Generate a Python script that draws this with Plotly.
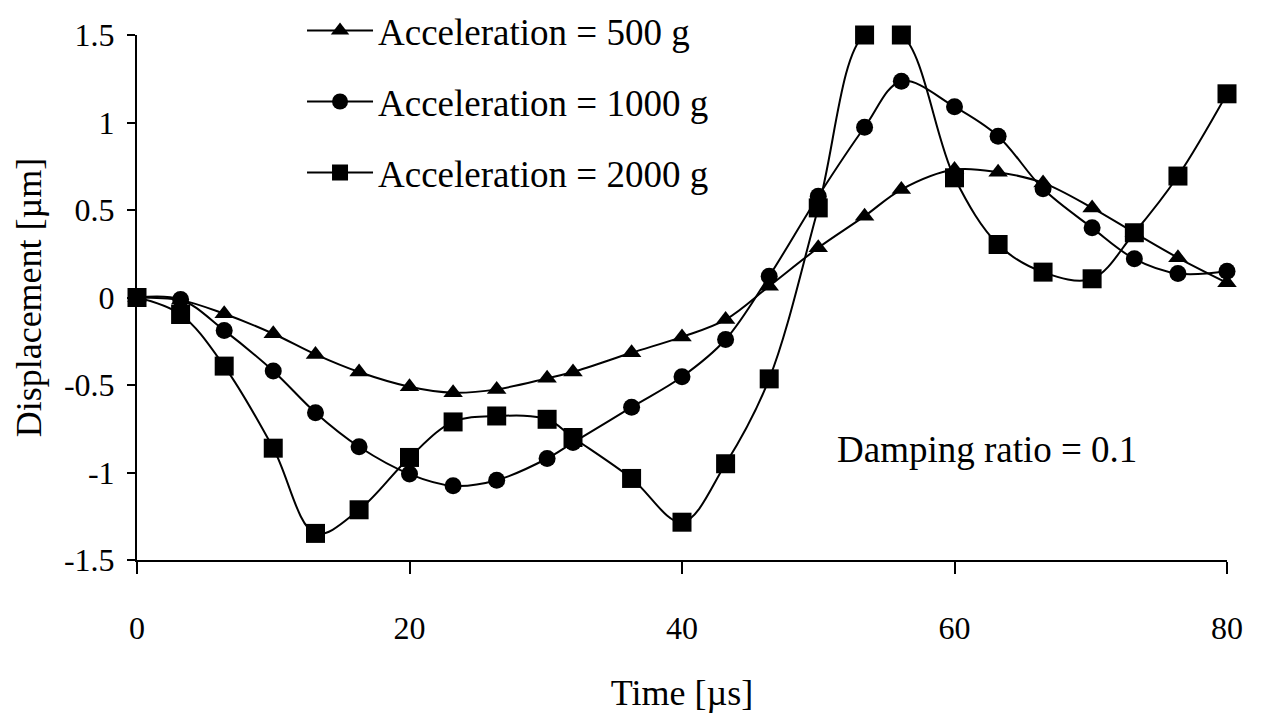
import plotly.graph_objects as go

time_us = [0, 3.2, 6.4, 10.0, 13.1, 16.3, 20.0, 23.2, 26.4, 30.1, 32.0, 36.3, 40.0,
           43.2, 46.4, 50.0, 53.4, 56.1, 60.0, 63.2, 66.5, 70.1, 73.2, 76.4, 80.0]

disp_500g = [0, -0.015, -0.093, -0.207, -0.325, -0.426, -0.51, -0.544, -0.525, -0.462,
             -0.426, -0.316, -0.225, -0.126, 0.065, 0.284, 0.465, 0.617, 0.731, 0.716,
             0.655, 0.512, 0.37, 0.227, 0.084]

disp_1000g = [0, -0.011, -0.188, -0.42, -0.658, -0.853, -1.009, -1.076, -1.044, -0.92,
              -0.829, -0.627, -0.453, -0.24, 0.122, 0.579, 0.973, 1.236, 1.09, 0.922,
              0.621, 0.398, 0.221, 0.137, 0.15]

disp_2000g = [0, -0.097, -0.392, -0.861, -1.348, -1.213, -0.914, -0.711, -0.677, -0.696,
              -0.80, -1.034, -1.284, -0.95, -0.465, 0.512, 1.5, 1.5, 0.684, 0.303,
              0.145, 0.107, 0.37, 0.694, 1.164]

series_names = ["Acceleration = 500 g", "Acceleration = 1000 g", "Acceleration = 2000 g"]
series_values = [disp_500g, disp_1000g, disp_2000g]
series_symbols = ["triangle-up", "circle", "square"]
series_sizes = [17, 17, 19]

x_ticks = [0, 20, 40, 60, 80]
y_ticks = [-1.5, -1, -0.5, 0, 0.5, 1, 1.5]
y_tick_labels = ["-1.5", "-1", "-0.5", "0", "0.5", "1", "1.5"]

FONT = "Liberation Serif, Times New Roman, serif"

fig = go.Figure()
for i, (name, vals, sym, sz) in enumerate(zip(series_names, series_values, series_symbols, series_sizes)):
    fig.add_trace(go.Scatter(
        x=time_us, y=vals, name=name, mode="lines+markers",
        line=dict(color="black", width=2, shape="spline", smoothing=1.0),
        marker=dict(symbol=sym, size=sz, color="black"),
        cliponaxis=False, legendgroup=f"g{i}",
    ))

fig.add_annotation(x=62.35, y=-0.87, xref="x", yref="y", text="Damping ratio = 0.1",
                   showarrow=False, xanchor="center", yanchor="middle",
                   font=dict(family=FONT, size=37, color="black"))

fig.update_layout(
    width=1262, height=723,
    margin=dict(l=129, r=43, t=27, b=171, autoexpand=False),
    paper_bgcolor="white", plot_bgcolor="white",
    font=dict(family=FONT, color="black"),
    legend=dict(x=0.1514, y=1.067, xanchor="left", yanchor="top",
                font=dict(family=FONT, size=37, color="black"),
                bgcolor="rgba(0,0,0,0)", traceorder="grouped", tracegroupgap=20,
                itemwidth=66),
    xaxis=dict(range=[0, 80], tickvals=x_ticks, ticks="outside", ticklen=12, tickwidth=2,
               tickcolor="black", showline=True, linecolor="black", linewidth=2,
               showgrid=False, zeroline=False, ticklabelstandoff=27, automargin=False,
               tickfont=dict(family=FONT, size=32, color="black"),
               title=dict(text="Time [µs]", font=dict(family=FONT, size=36, color="black"), standoff=34)),
    yaxis=dict(range=[-1.5, 1.5], tickvals=y_ticks, ticktext=y_tick_labels, ticks="outside",
               ticklen=8, tickwidth=2, tickcolor="black", showline=True, linecolor="black",
               linewidth=2, showgrid=False, zeroline=False, ticklabelstandoff=6, automargin=False,
               tickfont=dict(family=FONT, size=32, color="black"),
               title=dict(text="Displacement [µm]", font=dict(family=FONT, size=36, color="black"), standoff=11)),
)

fig.write_html("out.html")
